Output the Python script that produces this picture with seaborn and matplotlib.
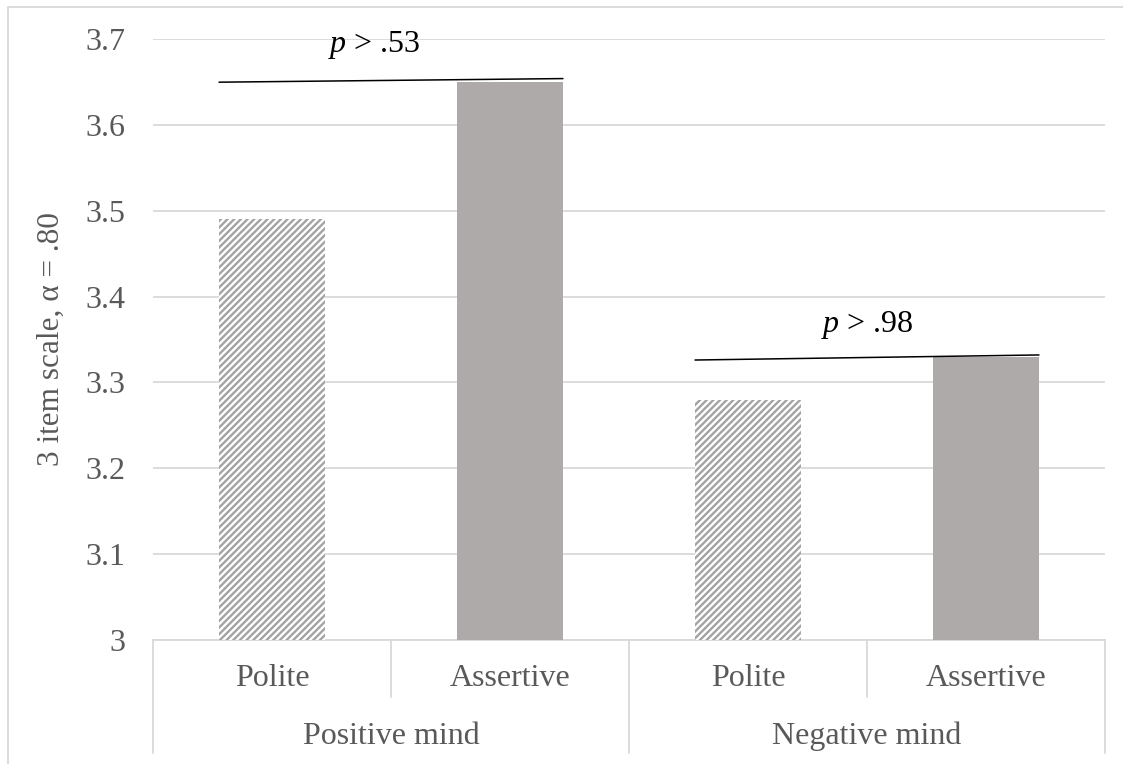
import pandas as pd
import matplotlib.pyplot as plt
from matplotlib.lines import Line2D
from matplotlib.transforms import blended_transform_factory
import seaborn as sns

# data
groups = ["Positive mind", "Positive mind", "Negative mind", "Negative mind"]
styles = ["Polite", "Assertive", "Polite", "Assertive"]
means = [3.49, 3.65, 3.28, 3.33]
y_ticks = [3.0, 3.1, 3.2, 3.3, 3.4, 3.5, 3.6, 3.7]
y_tick_labels = ["3", "3.1", "3.2", "3.3", "3.4", "3.5", "3.6", "3.7"]
group_names = ["Positive mind", "Negative mind"]
p_labels = [".53", ".98"]
p_line_y = [(3.6497, 3.6539), (3.3261, 3.3320)]
p_text_y = [3.693, 3.367]
p_text_x = [0.43, 2.50]

GRAY_TXT = "#595959"
GRID = "#d9d9d9"
BAR_GRAY = "#aeaaaa"
HATCH_GRAY = "#a3a3a3"

def main():
    sns.set_style("white")
    plt.rcParams["font.family"] = ["Liberation Serif", "DejaVu Serif"]
    plt.rcParams["mathtext.fontset"] = "custom"
    plt.rcParams["mathtext.it"] = "Liberation Serif:italic"
    plt.rcParams["mathtext.rm"] = "Liberation Serif"
    plt.rcParams["hatch.linewidth"] = 1.7

    df = pd.DataFrame({
        "key": [f"{g}|{s}" for g, s in zip(groups, styles)],
        "group": groups,
        "style": styles,
        "mean": means,
    })

    fig = plt.figure(figsize=(11.23, 7.64), dpi=100)
    ax = fig.add_axes([153 / 1123, 1 - 640 / 764, (1105 - 153) / 1123, (640 - 39) / 764])

    palette = {k: ("white" if s == "Polite" else BAR_GRAY) for k, s in zip(df["key"], df["style"])}
    sns.barplot(data=df, x="key", y="mean", hue="key", palette=palette, width=0.445,
                dodge=False, legend=False, ax=ax, errorbar=None, saturation=1, zorder=3)

    # hatch the polite bars
    bars = sorted(ax.patches, key=lambda p: p.get_x())
    for bar, s in zip(bars, styles):
        bar.set_linewidth(0)
        if s == "Polite":
            bar.set_facecolor("white")
            bar.set_edgecolor(HATCH_GRAY)
            bar.set_hatch("/////")
        else:
            bar.set_edgecolor(BAR_GRAY)

    ax.set_xlim(-0.5, 3.5)
    ax.set_ylim(3.0, 3.7)
    ax.set_yticks(y_ticks)
    ax.set_yticklabels(y_tick_labels)
    ax.grid(axis="y", color=GRID, linewidth=1.3, zorder=0)
    ax.set_axisbelow(True)
    for side in ["top", "right", "left"]:
        ax.spines[side].set_visible(False)
    ax.spines["bottom"].set_color(GRID)
    ax.spines["bottom"].set_linewidth(1.3)
    ax.tick_params(axis="y", length=0, pad=20, labelsize=23, labelcolor=GRAY_TXT)
    ax.tick_params(axis="x", length=0, pad=17, labelsize=23, labelcolor=GRAY_TXT)
    ax.set_xticks(range(len(styles)))
    ax.set_xticklabels(styles)
    ax.set_xlabel("")
    ax.set_ylabel("3 item scale, α = .80", fontsize=22.5, color=GRAY_TXT, labelpad=14)

    # group labels and category separators below the axis
    trans = blended_transform_factory(ax.transData, ax.transAxes)
    px = 1 / (640 - 39)
    for i, name in enumerate(group_names):
        ax.text(2 * i + 0.5, -96 * px, name, transform=trans, ha="center", va="center",
                fontsize=23, color=GRAY_TXT)
    for xb, depth in [(-0.5, 113), (0.5, 57), (1.5, 113), (2.5, 57), (3.5, 113)]:
        ax.add_line(Line2D([xb, xb], [0, -depth * px], transform=trans, color=GRID,
                           linewidth=1.3, clip_on=False))

    # significance lines and labels
    for i in range(2):
        x0 = 2 * i - 0.2225
        x1 = 2 * i + 1 + 0.2225
        ax.plot([x0, x1], list(p_line_y[i]), color="black", linewidth=1.1, zorder=4)
        ax.text(p_text_x[i], p_text_y[i], r"$p$ > " + p_labels[i], ha="center", va="center",
                fontsize=23, color="black")

    # outer chart border (top and left edges visible)
    fig.add_artist(Line2D([8 / 1123, 1], [1 - 7 / 764, 1 - 7 / 764], color=GRID, linewidth=1.3))
    fig.add_artist(Line2D([8 / 1123, 8 / 1123], [0, 1 - 7 / 764], color=GRID, linewidth=1.3))

    fig.savefig("out.png", dpi=100)
    plt.close(fig)

if __name__ == "__main__":
    main()
